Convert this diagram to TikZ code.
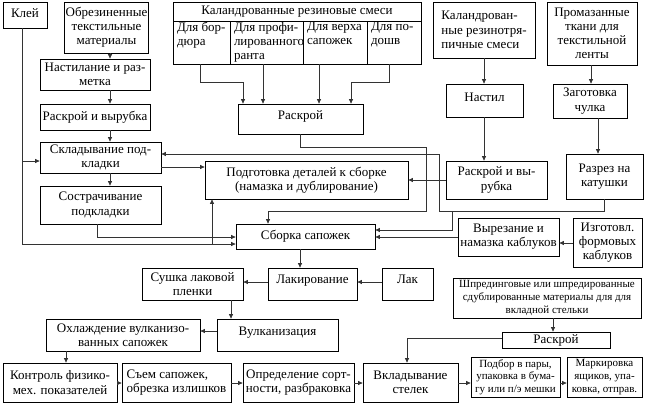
\documentclass[tikz,border=0pt]{standalone}
\usepackage{fontspec}
\setmainfont{Liberation Serif}
\newfontfamily\lserif{Liberation Serif}
\usetikzlibrary{arrows.meta}
\newcommand\mybox[7][]{\node[box,#1,minimum width={#5-#3},minimum height={#6-#4}] (#2) at ({(#3+#5)/2},{(#4+#6)/2}) {#7};}
\newcommand\colt[2]{\parbox[c][41pt][t]{#1pt}{\raggedright\leftskip=3pt\vspace{0pt}#2}}
\newcommand\up[2]{\raisebox{#1pt}{#2}}
\begin{document}
\begin{tikzpicture}[x=1pt,y=-1pt,
  box/.style={draw=black, line width=0.75pt, inner sep=1pt, align=center, font=\lserif\fontsize{13}{14.2}\selectfont},
  sm/.style={font=\lserif\fontsize{11}{12.6}\selectfont},
  arr/.style={draw=black!80, line width=0.7pt, -{Triangle[length=4.5pt,width=4pt]}}]
\useasboundingbox (0,0) rectangle (646,405);
\fill[white] (0,0) rectangle (646,405);

\mybox{klei}{3}{2}{47}{28}{\up{3}{Клей}}
\mybox{obrez}{66}{2}{147}{53}{Обрезиненные\\текстильные\\материалы}
\mybox{kalh}{173}{2}{421}{21}{Каландрованные резиновые смеси}
\mybox[inner sep=0pt]{c1}{173}{21}{230}{64}{\colt{55}{Для бор-\\дюра}}
\mybox[inner sep=0pt]{c2}{230}{21}{303}{64}{\colt{71}{Для профи-\\лированного\\ранта}}
\mybox[inner sep=0pt]{c3}{303}{21}{367}{64}{\colt{62}{Для верха\\сапожек}}
\mybox[inner sep=0pt]{c4}{367}{21}{421}{64}{\colt{52}{Для по-\\дошв}}
\mybox[align=left]{kalrez}{433}{2}{535}{58}{Каландрован-\\ные резинотря-\\пичные смеси}
\mybox{promaz}{547}{2}{637}{65}{Промазанные\\ткани для\\текстильной\\ленты}
\mybox{nr}{40}{59}{150}{90}{Настилание и раз-\\метка}
\mybox{rv1}{40}{104}{150}{130}{Раскрой и вырубка}
\mybox{rm}{238}{104}{363}{134}{\up{8}{Раскрой}}
\mybox{nastil}{446}{84}{523}{117}{\up{6}{Настил}}
\mybox{zagot}{553}{84}{627}{118}{Заготовка\\чулка}
\mybox{sklad}{40}{142}{161}{173}{Складывание под-\\кладки}
\mybox{sostr}{40}{186}{161}{224}{Сострачивание\\подкладки}
\mybox{podg}{205}{161}{408}{199}{Подготовка деталей к сборке\\(намазка и дублирование)}
\mybox{rv2}{446}{161}{547}{199}{Раскрой и вы-\\рубка}
\mybox{razrez}{566}{154}{643}{199}{Разрез на\\катушки}
\mybox{sborka}{236}{224}{375}{249}{Сборка сапожек}
\mybox{vyrez}{458}{218}{559}{256}{Вырезание и\\намазка каблуков}
\mybox{izgot}{573}{218}{642}{267}{Изготовл.\\формовых\\каблуков}
\mybox{sushka}{142}{268}{243}{300}{Сушка лаковой\\пленки}
\mybox{lakir}{268}{268}{357}{300}{\up{9}{Лакирование}}
\mybox{lak}{382}{268}{433}{300}{\up{10}{Лак}}
\mybox[sm]{shpred}{453}{278}{641}{318}{Шпрединговые или шпредированные\\сдублированные материалы для для\\вкладной стельки}
\mybox{okhl}{46}{319}{200}{351}{Охлаждение вулканизо-\\ванных сапожек}
\mybox{vulk}{217}{319}{338}{351}{\up{8}{Вулканизация}}
\mybox{kontrol}{3}{363}{117}{402}{Контроль физико-\\мех. показателей}
\mybox[align=left]{sem}{122}{363}{231}{402}{Съем сапожек,\\обрезка излишков}
\mybox{opred}{243}{363}{354}{402}{Определение сорт-\\ности, разбраковка}
\mybox{vklad}{363}{363}{458}{402}{Вкладывание\\стелек}
\mybox{rask3}{502}{332}{610}{348}{Раскрой}
\mybox[sm]{podbor}{471}{357}{560}{397}{Подбор в пары,\\упаковка в бума-\\гу или п/э мешки}
\mybox[sm]{mark}{567}{357}{642}{397}{Маркировка\\ящиков, упа-\\ковка, отправ.}

% left column
\draw[arr] (klei.south -| 22,0) -- (22,244) -- (sborka.west |- 0,244);
\draw[arr] (22,161) -- (sklad.west |- 0,161);
\draw[arr] (212,244) -- (podg.south -| 212,0);
\draw[arr] (sostr.south -| 97,0) -- (97,237) -- (sborka.west |- 0,237);
\draw[arr] (obrez.south -| 110,0) -- (nr.north -| 110,0);
\draw[arr] (nr.south -| 110,0) -- (rv1.north -| 110,0);
\draw[arr] (rv1.south -| 110,0) -- (sklad.north -| 110,0);
\draw[arr] (sklad.south -| 110,0) -- (sostr.north -| 110,0);
\draw[arr] (sklad.east |- 0,167) -- (podg.west |- 0,167);
% calendered mixes
\draw[arr] (c1.south -| 200,0) -- (200,82) -- (243,82) -- (rm.north -| 243,0);
\draw[arr] (c2.south -| 263,0) -- (rm.north -| 263,0);
\draw[arr] (c3.south -| 319,0) -- (rm.north -| 319,0);
\draw[arr] (c4.south -| 389,0) -- (389,82) -- (351,82) -- (rm.north -| 351,0);
\draw[arr] (rm.south -| 300,0) -- (300,147) -- (426,147) -- (426,211) -- (268,211) -- (sborka.north -| 268,0);
% right part
\draw[arr] (kalrez.south -| 484,0) -- (nastil.north -| 484,0);
\draw[arr] (promaz.south -| 591,0) -- (zagot.north -| 591,0);
\draw[arr] (nastil.south -| 484,0) -- (rv2.north -| 484,0);
\draw[arr] (zagot.south -| 598,0) -- (razrez.north -| 598,0);
\draw[arr] (rv2.west |- 0,180) -- (podg.east |- 0,180);
\draw[arr] (razrez.south -| 604,0) -- (604,211) -- (439,211) -- (439,154) -- (sklad.east |- 0,154);
\draw[arr] (452,211) -- (452,230) -- (sborka.east |- 0,230);
\draw[arr] (vyrez.west |- 0,237) -- (sborka.east |- 0,237);
\draw[arr] (izgot.west |- 0,243) -- (vyrez.east |- 0,243);
% lower part
\draw[arr] (sborka.south -| 300,0) -- (lakir.north -| 300,0);
\draw[arr] (lakir.west |- 0,282) -- (sushka.east |- 0,282);
\draw[arr] (lak.west |- 0,282) -- (lakir.east |- 0,282);
\draw[arr] (sushka.south -| 231,0) -- (vulk.north -| 231,0);
\draw[arr] (vulk.west |- 0,331) -- (okhl.east |- 0,331);
\draw[arr] (okhl.south -| 66,0) -- (kontrol.north -| 66,0);
\draw[arr] (kontrol.east |- 0,383) -- (sem.west |- 0,383);
\draw[arr] (sem.east |- 0,383) -- (opred.west |- 0,383);
\draw[arr] (opred.east |- 0,383) -- (vklad.west |- 0,383);
\draw[arr] (vklad.east |- 0,383) -- (podbor.west |- 0,383);
\draw[arr] (podbor.east |- 0,383) -- (mark.west |- 0,383);
\draw[arr] (shpred.south -| 553,0) -- (rask3.north -| 553,0);
\draw[arr] (rask3.west |- 0,338) -- (407,338) -- (vklad.north -| 407,0);
\end{tikzpicture}
\end{document}
